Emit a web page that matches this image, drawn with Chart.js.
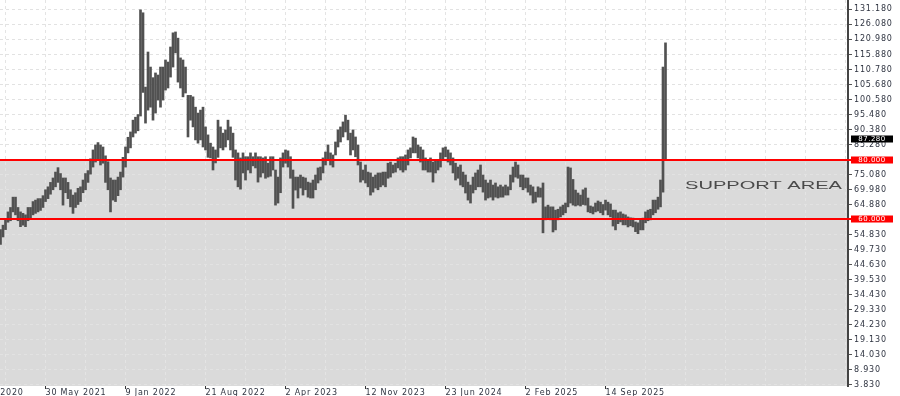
<!DOCTYPE html>
<html>
<head>
<meta charset="utf-8">
<script src="https://cdn.jsdelivr.net/npm/chart.js@4.4.1/dist/chart.umd.min.js"></script>
<style>
  html, body { margin: 0; padding: 0; background: #ffffff; }
  canvas { display: block; }
</style>
</head>
<body>
<canvas id="priceChart" width="900" height="396"></canvas>
<script>
// weekly bars, week 0 = 24 Jan 2021
const lows = [
  51.5, 54, 56.5, 59, 59.5, 62.5, 61.5, 59.5, 57.5, 58,
  57.5, 59.5, 60, 61.5, 62, 62.5, 63, 64, 66, 67,
  68.5, 70, 71, 72.5, 70, 64.8, 69, 67, 64.2, 62,
  64, 65, 66, 69, 70, 72.5, 75.3, 77.7, 79.4, 80,
  78.4, 79, 72.5, 70, 62.5, 66.5, 66, 68, 70, 74.3,
  77.7, 82.5, 84.2, 87.9, 89.2, 90, 95, 103, 92.6, 97,
  98, 93.6, 96, 100.4, 98, 100.4, 103.8, 104.5, 108.2, 111.6,
  116.4, 106.5, 104.5, 101.5, 102.8, 87.9, 93.6, 91.3, 86.9, 85.8,
  86.9, 84.5, 83.5, 81, 80.8, 76.7, 79.1, 81, 84.2, 83.5,
  84.5, 86.9, 83.5, 81, 73.3, 71, 70.2, 75.7, 73.3, 76.7,
  75.7, 78.1, 77.4, 72.6, 74.3, 75.7, 73.9, 74.3, 74.6, 76.7,
  64.8, 65.5, 69, 77.7, 79, 77.7, 73.9, 63.7, 69.9, 67.2,
  70.6, 68.2, 70, 67.5, 67.2, 67.2, 70, 72.3, 73.3, 75.7,
  78.4, 80.1, 78.4, 77.7, 81.8, 84.5, 86.2, 87.9, 89.6, 86.9,
  81.8, 83.5, 81.2, 78.4, 72.6, 73.3, 72.3, 71, 68.2, 69.2,
  70.6, 70, 71, 71.6, 71, 73.9, 74.3, 75.7, 76, 77.4,
  76.7, 76, 76.7, 78.4, 80.8, 82.5, 82.5, 80.8, 79.4, 76.7,
  76.7, 76, 76, 72.6, 75.7, 76.7, 77.7, 80.1, 81.2, 79.4,
  78.4, 75.7, 73.3, 73.9, 71.6, 71, 68.9, 66.5, 65.5, 68.9,
  70, 71, 71, 69.2, 66.5, 67.2, 67.5, 66.5, 67.5, 67.2,
  67.5, 67.5, 68.2, 68.2, 70, 72.6, 74.3, 73.9, 71, 70,
  70.6, 69.2, 68.2, 65.5, 65.8, 67.5, 67.5, 55.4, 59.8, 60.4,
  59.8, 55.7, 56.4, 59.8, 60.8, 61.5, 62.2, 64.2, 65.5, 64.8,
  64.5, 64.8, 64.5, 65, 64.8, 62.5, 62.2, 61.8, 62.5, 62.8,
  62.2, 61.5, 63.1, 61.5, 60.8, 57.7, 56.4, 58.5, 59.1, 58.1,
  58.1, 57.4, 57.8, 57.4, 55.8, 55.1, 56.4, 56.4, 58.8, 59.5,
  59.8, 61.5, 62.2, 63.4, 64.2, 69.2, 80.1
];

const highs = [
  56.5, 58, 60, 62.5, 64, 67.5, 67.5, 64, 62.5, 62,
  61.5, 64, 64, 66, 66.5, 67, 67, 68, 70, 71,
  72.5, 74, 76, 77.5, 75.5, 74, 74, 72.5, 70, 68.2,
  69, 70.5, 71, 73.3, 75.5, 76.5, 80.5, 83.5, 85.2, 86,
  85.2, 84.5, 81.5, 79.5, 74, 73.3, 73.3, 74.3, 76, 81,
  84.5, 87.8, 89.6, 93.6, 94.6, 95.5, 131, 130, 104.8, 116.7,
  111.6, 108, 109.6, 108.9, 111.6, 111.6, 114, 113.3, 118.4, 123.2,
  123.5, 121.4, 114.7, 114, 111.6, 102, 102, 101.5, 98, 96,
  97, 98, 91.3, 88.6, 85.8, 84.5, 83.5, 93.6, 91.3, 89.2,
  90.3, 93.6, 91.3, 89.2, 83.5, 82.5, 80.8, 82.5, 81.2, 81.2,
  82.5, 81.2, 82.5, 81.2, 81.2, 80.8, 81.2, 79, 81.2, 81.2,
  76.7, 74.3, 80.8, 82.5, 83.5, 83.2, 81.2, 76.7, 74.3, 74.3,
  75, 74.3, 74, 72.6, 72.3, 73.3, 75, 77.4, 77.7, 80.8,
  82.8, 85.2, 82.5, 81.8, 86.2, 90.3, 91.3, 93, 95.3, 93.6,
  89.2, 90.3, 87.9, 85.2, 79.4, 76.7, 78.4, 76, 75.7, 74.3,
  75, 75.7, 75.7, 76, 76, 79, 79.4, 78.4, 79, 80.8,
  81.2, 81.2, 81.8, 83.5, 84.2, 87.9, 87.5, 85.2, 84.5, 83.5,
  80.8, 80.1, 80.8, 79.4, 80.1, 80.1, 82.5, 84.2, 84.5, 83.5,
  82.5, 80.8, 79, 77.7, 78.4, 76, 75, 72.6, 71.6, 74.3,
  75.7, 76.7, 78.4, 75, 73.3, 72.3, 73.3, 71.6, 72.3, 71,
  71.6, 71, 71.6, 71, 75, 77.7, 79.4, 78.4, 75, 75,
  74, 74, 71.6, 71, 69.2, 71, 70.6, 72.3, 64.2, 64.8,
  64.2, 64.2, 63.1, 63.4, 64.2, 64.8, 65.5, 77.7, 77.4, 73.5,
  69.9, 68.9, 68.2, 70, 70.6, 67.2, 64.5, 64.2, 65.5, 66.2,
  65.8, 65, 66.5, 65.8, 65.2, 63.1, 63.1, 62.2, 62.5, 61.8,
  61.5, 60.8, 60.5, 60.4, 59.1, 58.8, 59.8, 60.4, 62.5, 63.1,
  63.4, 66.5, 66.5, 67.5, 73.3, 111.6, 119.8
];

const dateLabels = ["18 Oct 2020", "30 May 2021", "9 Jan 2022", "21 Aug 2022", "2 Apr 2023",
                    "12 Nov 2023", "23 Jun 2024", "2 Feb 2025", "14 Sep 2025"];
const dateWeeks = [-14, 18, 50, 82, 114, 146, 178, 210, 242];

const priceTicks = [3.83, 8.93, 14.03, 19.13, 24.23, 29.33, 34.43, 39.53, 44.63, 49.73, 54.83,
                    64.88, 69.98, 75.08, 85.28, 90.38, 95.48, 100.58, 105.68, 110.78,
                    115.88, 120.98, 126.08, 131.18];

const supportLevels = [80, 60];
const lastPrice = 87.28;

// vertical grid every 16 weeks
const gridWeeks = [];
for (let w = 2; w <= 338; w += 16) gridWeeks.push(w);

const levelsPlugin = {
    id: "levels",
    beforeDraw(chart) {
        const { ctx, chartArea: a, scales: { y } } = chart;
        const top = y.getPixelForValue(supportLevels[0]);
        ctx.save();
        ctx.fillStyle = "#dadada";
        ctx.fillRect(a.left, top, a.right - a.left, a.bottom - top);
        ctx.restore();
        ctx.letterSpacing = "0.8px";
    },
    afterDatasetsDraw(chart) {
        const { ctx, chartArea: a, scales: { y } } = chart;
        ctx.save();
        ctx.letterSpacing = "0px";
        ctx.strokeStyle = "#ff0000";
        ctx.lineWidth = 2;
        supportLevels.forEach(v => {
            const py = Math.round(y.getPixelForValue(v));
            ctx.beginPath();
            ctx.moveTo(a.left, py);
            ctx.lineTo(a.right + 3, py);
            ctx.stroke();
        });

        // SUPPORT AREA caption, stretched wide like the original
        ctx.font = "10px 'Liberation Sans', Arial, sans-serif";
        ctx.fillStyle = "#4a4a4a";
        ctx.textBaseline = "middle";
        const text = "SUPPORT AREA";
        const w = ctx.measureText(text).width;
        const target = 157;
        ctx.translate(a.right - 163, y.getPixelForValue(71.2));
        ctx.scale(target / w, 1);
        ctx.fillText(text, 0, 0);
        ctx.restore();
    },
    afterDraw(chart) {
        const { ctx, chartArea: a, scales: { y } } = chart;
        ctx.save();
        ctx.letterSpacing = "0.5px";
        ctx.font = "7px 'DejaVu Sans', sans-serif";
        ctx.textAlign = "center";
        ctx.textBaseline = "middle";
        const box = (v, bg) => {
            const py = Math.round(y.getPixelForValue(v));
            ctx.fillStyle = bg;
            ctx.fillRect(a.right + 3, py - 3.5, 42, 7);
            ctx.fillStyle = "#ffffff";
            ctx.fillText(v.toFixed(3), a.right + 24, py + 0.5);
        };
        supportLevels.forEach(v => box(v, "#ff0000"));
        box(lastPrice, "#000000");
        ctx.restore();
        ctx.letterSpacing = "0px";
    }
};

const canvas = document.getElementById("priceChart");

new Chart(canvas, {
    type: "bar",
    data: {
        datasets: [{
            data: lows.map((lo, i) => ({ x: i, y: [lo, highs[i]] })),
            backgroundColor: "#515151",
            borderWidth: 0,
            barThickness: 2,
            grouped: false
        }]
    },
    plugins: [levelsPlugin],
    options: {
        responsive: false,
        animation: false,
        events: [],
        layout: { padding: 0 },
        plugins: {
            legend: { display: false },
            tooltip: { enabled: false }
        },
        scales: {
            x: {
                type: "linear",
                min: -0.2,
                max: 339,
                offset: false,
                afterBuildTicks: s => {
                    // the cut-off 2020 label goes last so it does not pad the layout
                    s.ticks = gridWeeks.map(v => ({ value: v })).concat([{ value: dateWeeks[0] }]);
                },
                afterFit: s => {
                    s.height = 10;
                    s.paddingLeft = 0;
                    s.paddingRight = 0;
                },
                ticks: {
                    autoSkip: false,
                    maxRotation: 0,
                    align: "start",
                    padding: -1,
                    color: "#2e3340",
                    font: { family: "'DejaVu Sans', sans-serif", size: 8 },
                    callback: v => {
                        const k = dateWeeks.indexOf(v);
                        return k >= 0 ? dateLabels[k] : "";
                    }
                },
                grid: {
                    offset: false,
                    color: "#e4e4e4",
                    lineWidth: 1,
                    tickLength: 3,
                    tickBorderDash: [],
                    tickColor: c => (c.tick && dateWeeks.includes(c.tick.value)) ? "#333333" : "rgba(0,0,0,0)"
                },
                border: { display: false, dash: [3, 3] }
            },
            y: {
                position: "right",
                min: 3.48,
                max: 134.33,
                afterBuildTicks: s => {
                    s.ticks = priceTicks.map(v => ({ value: v }));
                },
                afterFit: s => {
                    s.width = 52;
                    s.paddingTop = 0;
                    s.paddingBottom = 0;
                },
                ticks: {
                    autoSkip: false,
                    padding: 2,
                    color: "#2e3340",
                    font: { family: "'DejaVu Sans', sans-serif", size: 8 },
                    callback: v => v.toFixed(3)
                },
                grid: {
                    color: "#e2e2e2",
                    lineWidth: 1,
                    tickLength: 4,
                    tickColor: "#555555",
                    tickBorderDash: []
                },
                border: { display: true, color: "#444444", width: 2, dash: [3, 3] }
            }
        }
    }
});
</script>
</body>
</html>
